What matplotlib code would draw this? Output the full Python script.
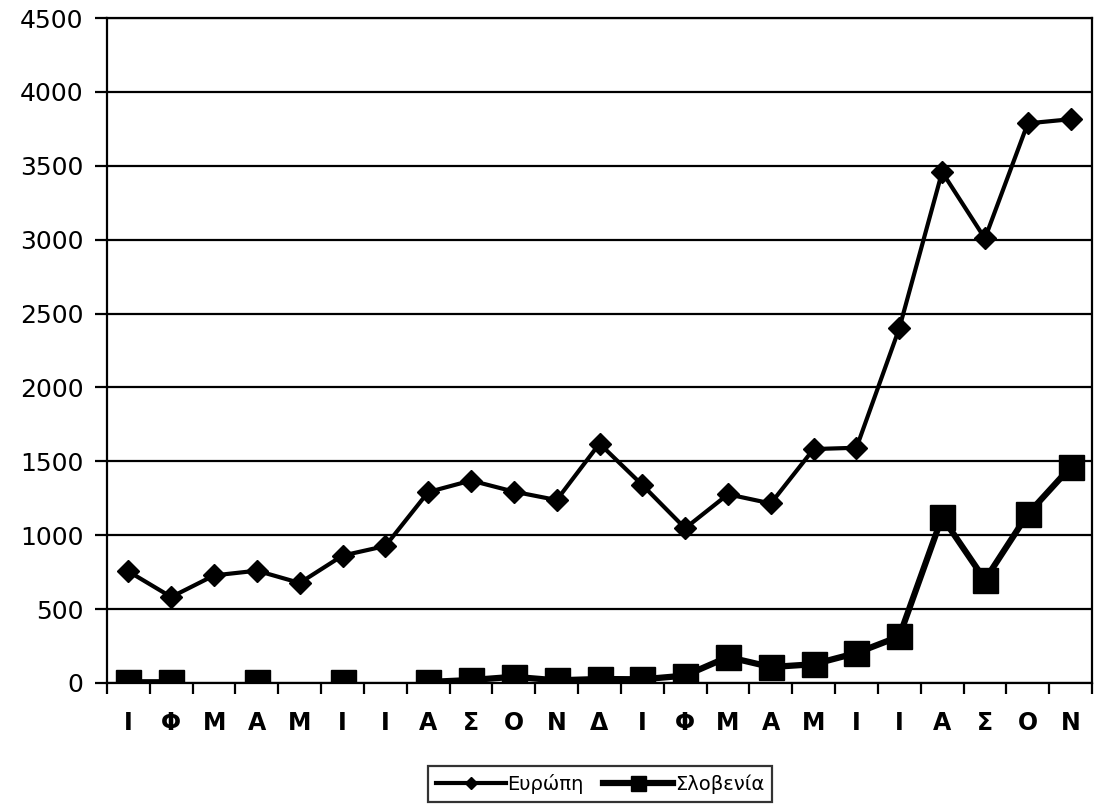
import matplotlib
matplotlib.use("Agg")
import matplotlib.pyplot as plt
import numpy as np

months = ["Ι", "Φ", "Μ", "Α", "Μ", "Ι", "Ι", "Α", "Σ", "Ο", "Ν", "Δ",
          "Ι", "Φ", "Μ", "Α", "Μ", "Ι", "Ι", "Α", "Σ", "Ο", "Ν"]
europe = [755, 582, 728, 760, 677, 862, 927, 1292, 1370, 1295, 1238, 1620,
          1340, 1047, 1277, 1215, 1583, 1592, 2400, 3458, 3008, 3787, 3815]
slovenia = [5, 5, np.nan, 5, np.nan, 5, np.nan, 7, 20, 42, 18, 27,
            25, 50, 176, 108, 127, 203, 315, 1123, 697, 1143, 1461]

plt.rcParams['font.family'] = ['DejaVu Sans']

fig = plt.figure(figsize=(10.96, 8.10), dpi=100)
ax = fig.add_axes([107/1096, 1 - 683/810, (1092 - 107)/1096, (683 - 18)/810])

x = np.arange(len(months))
ax.plot(x, europe, color='black', lw=3.0, marker='D', markersize=11,
        label='Ευρώπη', zorder=3)
ax.plot(x, slovenia, color='black', lw=4.5, marker='s', markersize=18,
        label='Σλοβενία', zorder=4)

ax.set_xlim(-0.5, len(months) - 0.5)
ax.set_ylim(0, 4500)
ax.set_yticks(np.arange(0, 4501, 500))
ax.yaxis.grid(True, color='black', lw=1.6)
ax.set_axisbelow(True)
ax.tick_params(axis='y', labelsize=18, length=9, width=1.6, direction='out', pad=8)

ax.set_xticks(np.arange(-0.5, len(months), 1.0))
ax.set_xticklabels([])
ax.set_xticks(x, minor=True)
ax.set_xticklabels(months, minor=True, fontsize=17, fontweight='bold')
ax.tick_params(axis='x', which='major', length=8, width=1.6, direction='out')
ax.tick_params(axis='x', which='minor', length=0, pad=20)

for s in ax.spines.values():
    s.set_linewidth(1.6)
    s.set_color('black')

leg = fig.legend(loc='center', bbox_to_anchor=(600/1096, 1 - 784/810),
                 ncol=2, fontsize=14, frameon=True, fancybox=False,
                 edgecolor='black', handlelength=3.6, markerscale=0.6,
                 columnspacing=1.0, handletextpad=0.1, borderpad=0.4)
leg.get_frame().set_linewidth(1.6)

fig.savefig('out.png', dpi=100, facecolor='white')
